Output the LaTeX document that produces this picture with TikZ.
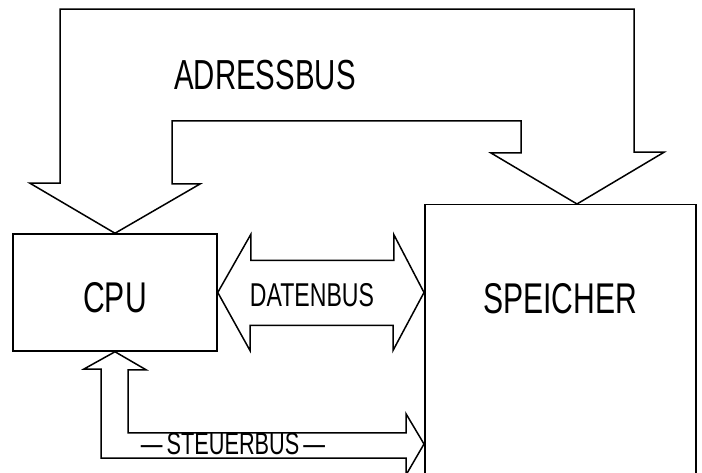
\documentclass[tikz,border=0pt]{standalone}
\usepackage{fontspec}
\setmainfont{Liberation Sans}[FakeStretch=0.7]
\usetikzlibrary{positioning, calc}

\tikzstyle{unit} = [
    rectangle,
    draw=black,
    line width=1.5pt,
    inner sep=0pt
]
\tikzstyle{bus} = [
    draw=black,
    line width=1.5pt,
    line join=miter
]
\tikzstyle{biglabel} = [
    inner sep=0pt,
    font=\fontsize{43pt}{43pt}\selectfont
]
\tikzstyle{buslabel} = [
    inner sep=0pt,
    font=\fontsize{33pt}{33pt}\selectfont
]

\begin{document}
\begin{tikzpicture}[x=1pt, y=-1pt]

\useasboundingbox (0,0) rectangle (702,473);

\node (cpu) [unit, biglabel, minimum width=204pt, minimum height=117pt, text height=41pt] at (115,292.5) {CPU};

\node (mem) [unit, minimum width=271pt, minimum height=300pt, anchor=north west] at (424,204) {};

\node (memlbl) [biglabel, below=79pt of mem.north] {SPEICHER};

\node (albl) [biglabel, font=\fontsize{42pt}{42pt}\selectfont] at (265,75) {ADRESSBUS};

\node (dlbl) [buslabel] at (312,295) {DATENBUS};

\node (slbl) [buslabel, font=\fontsize{31pt}{31pt}\selectfont] at (233,444) {—\kern4pt STEUERBUS\kern4pt —};

\coordinate (memtip) at ($(mem.north west)+(153,0)$);
\coordinate (dtip) at (cpu.east -| mem.west);
\coordinate (stip) at ($(mem.north west)+(0,240)$);

% Adressbus
\draw [bus] (cpu.north) -- ++(-85,-50) -- ++(30,0) -- ++(0,-174) -- ++(574,0) -- ++(0,143) -- ++(30,0)
    -- (memtip) -- ++(-86,-51) -- ++(30,0) -- ++(0,-32) -- ++(-349,0) -- ++(0,63) -- ++(28,0) -- cycle;

% Datenbus
\draw [bus] (cpu.east) -- ++(33,-58) -- ++(0,26) -- ++(143,0) -- ++(0,-26)
    -- (dtip) -- ++(-31,58) -- ++(0,-25) -- ++(-143,0) -- ++(0,25) -- cycle;

% Steuerbus
\draw [bus] (cpu.south) -- ++(31,18) -- ++(-18,0) -- ++(0,63) -- ++(278,0) -- ++(0,-19)
    -- (stip) -- ++(-18,31) -- ++(0,-17) -- ++(-305,0) -- ++(0,-89) -- ++(-17,0) -- cycle;

\end{tikzpicture}
\end{document}
